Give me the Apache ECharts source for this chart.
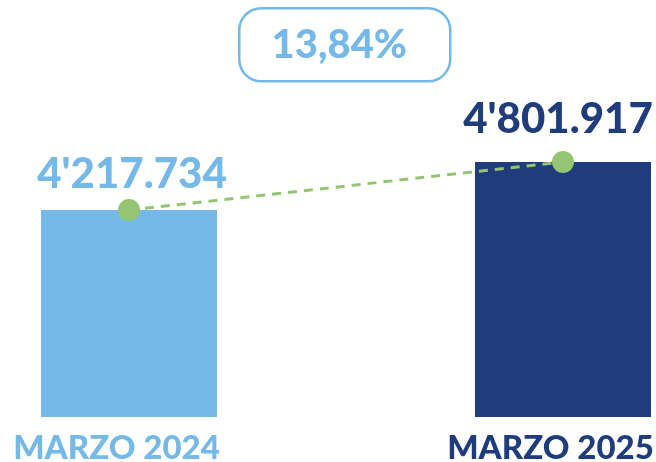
<!DOCTYPE html>
<html lang="es">
<head>
	<meta charset="UTF-8">
	<title></title>
	<style type="text/css">
		html, body { margin: 0; padding: 0; background: #fff; }
		#container { width: 656px; height: 462px; }
	</style>
	<script type="text/javascript" src="https://cdn.jsdelivr.net/npm/echarts/dist/echarts.min.js"></script>
</head>
<body>
	<div id="container"></div>
	<script type="text/javascript">
	// datos
	var categories = ['MARZO 2024', 'MARZO 2025'];
	var values = [4217734, 4801917];
	var valueLabels = ["4'217.734", "4'801.917"];
	var changeLabel = '13,84%';

	var light = '#74B9E7';
	var navy = '#1F3C7C';
	var green = '#93C572';
	var colors = [light, navy];
	var fontFam = 'Lato';

	var dom = document.getElementById('container');
	var myChart = echarts.init(dom);

	var option = {
		animation: false,
		// grid mas ancho que el lienzo para que los centros caigan en 129 y 563
		grid: { left: -88, width: 868, top: 63.5, bottom: 45, outerBoundsMode: 'none', containLabel: false },
		xAxis: {
			type: 'category',
			data: categories,
			axisLine: { show: false },
			axisTick: { show: false },
			splitLine: { show: false },
			axisLabel: {
				margin: 15,
				padding: [0, 25, 0, 0],
				fontFamily: fontFam,
				fontWeight: 900,
				fontSize: 33,
				color: function (v, i) { return colors[i]; }
			}
		},
		yAxis: {
			type: 'value',
			min: 1700000,
			max: 6000000,
			show: false,
			splitLine: { show: false }
		},
		series: [
			{
				type: 'bar',
				barWidth: 176,
				data: values.map(function (v, i) {
					return {
						value: v,
						itemStyle: { color: colors[i] },
						label: {
							color: colors[i],
							distance: i === 0 ? 15 : 22,
							offset: i === 0 ? [3, 0] : [-5, 0]
						}
					};
				}),
				label: {
					show: true,
					position: 'top',
					fontFamily: fontFam,
					fontWeight: 900,
					fontSize: 42,
					formatter: function (p) { return valueLabels[p.dataIndex]; }
				}
			},
			{
				type: 'line',
				data: values,
				symbol: 'circle',
				symbolSize: 22,
				z: 5,
				itemStyle: { color: green },
				lineStyle: { color: green, width: 3, type: [9, 7] }
			}
		],
		graphic: [
			{
				type: 'group',
				left: 238,
				top: 7,
				children: [
					{
						type: 'rect',
						shape: { x: 0, y: 0, width: 211, height: 73, r: 22 },
						style: { fill: '#fff', stroke: light, lineWidth: 2.5 }
					},
					{
						type: 'text',
						x: 100,
						y: 37,
						style: {
							text: changeLabel,
							fill: light,
							font: '900 40px ' + fontFam,
							align: 'center',
							verticalAlign: 'middle'
						}
					}
				]
			}
		]
	};

	if (option && typeof option === 'object') {
		myChart.setOption(option, true);
	}
	</script>
</body>
</html>
